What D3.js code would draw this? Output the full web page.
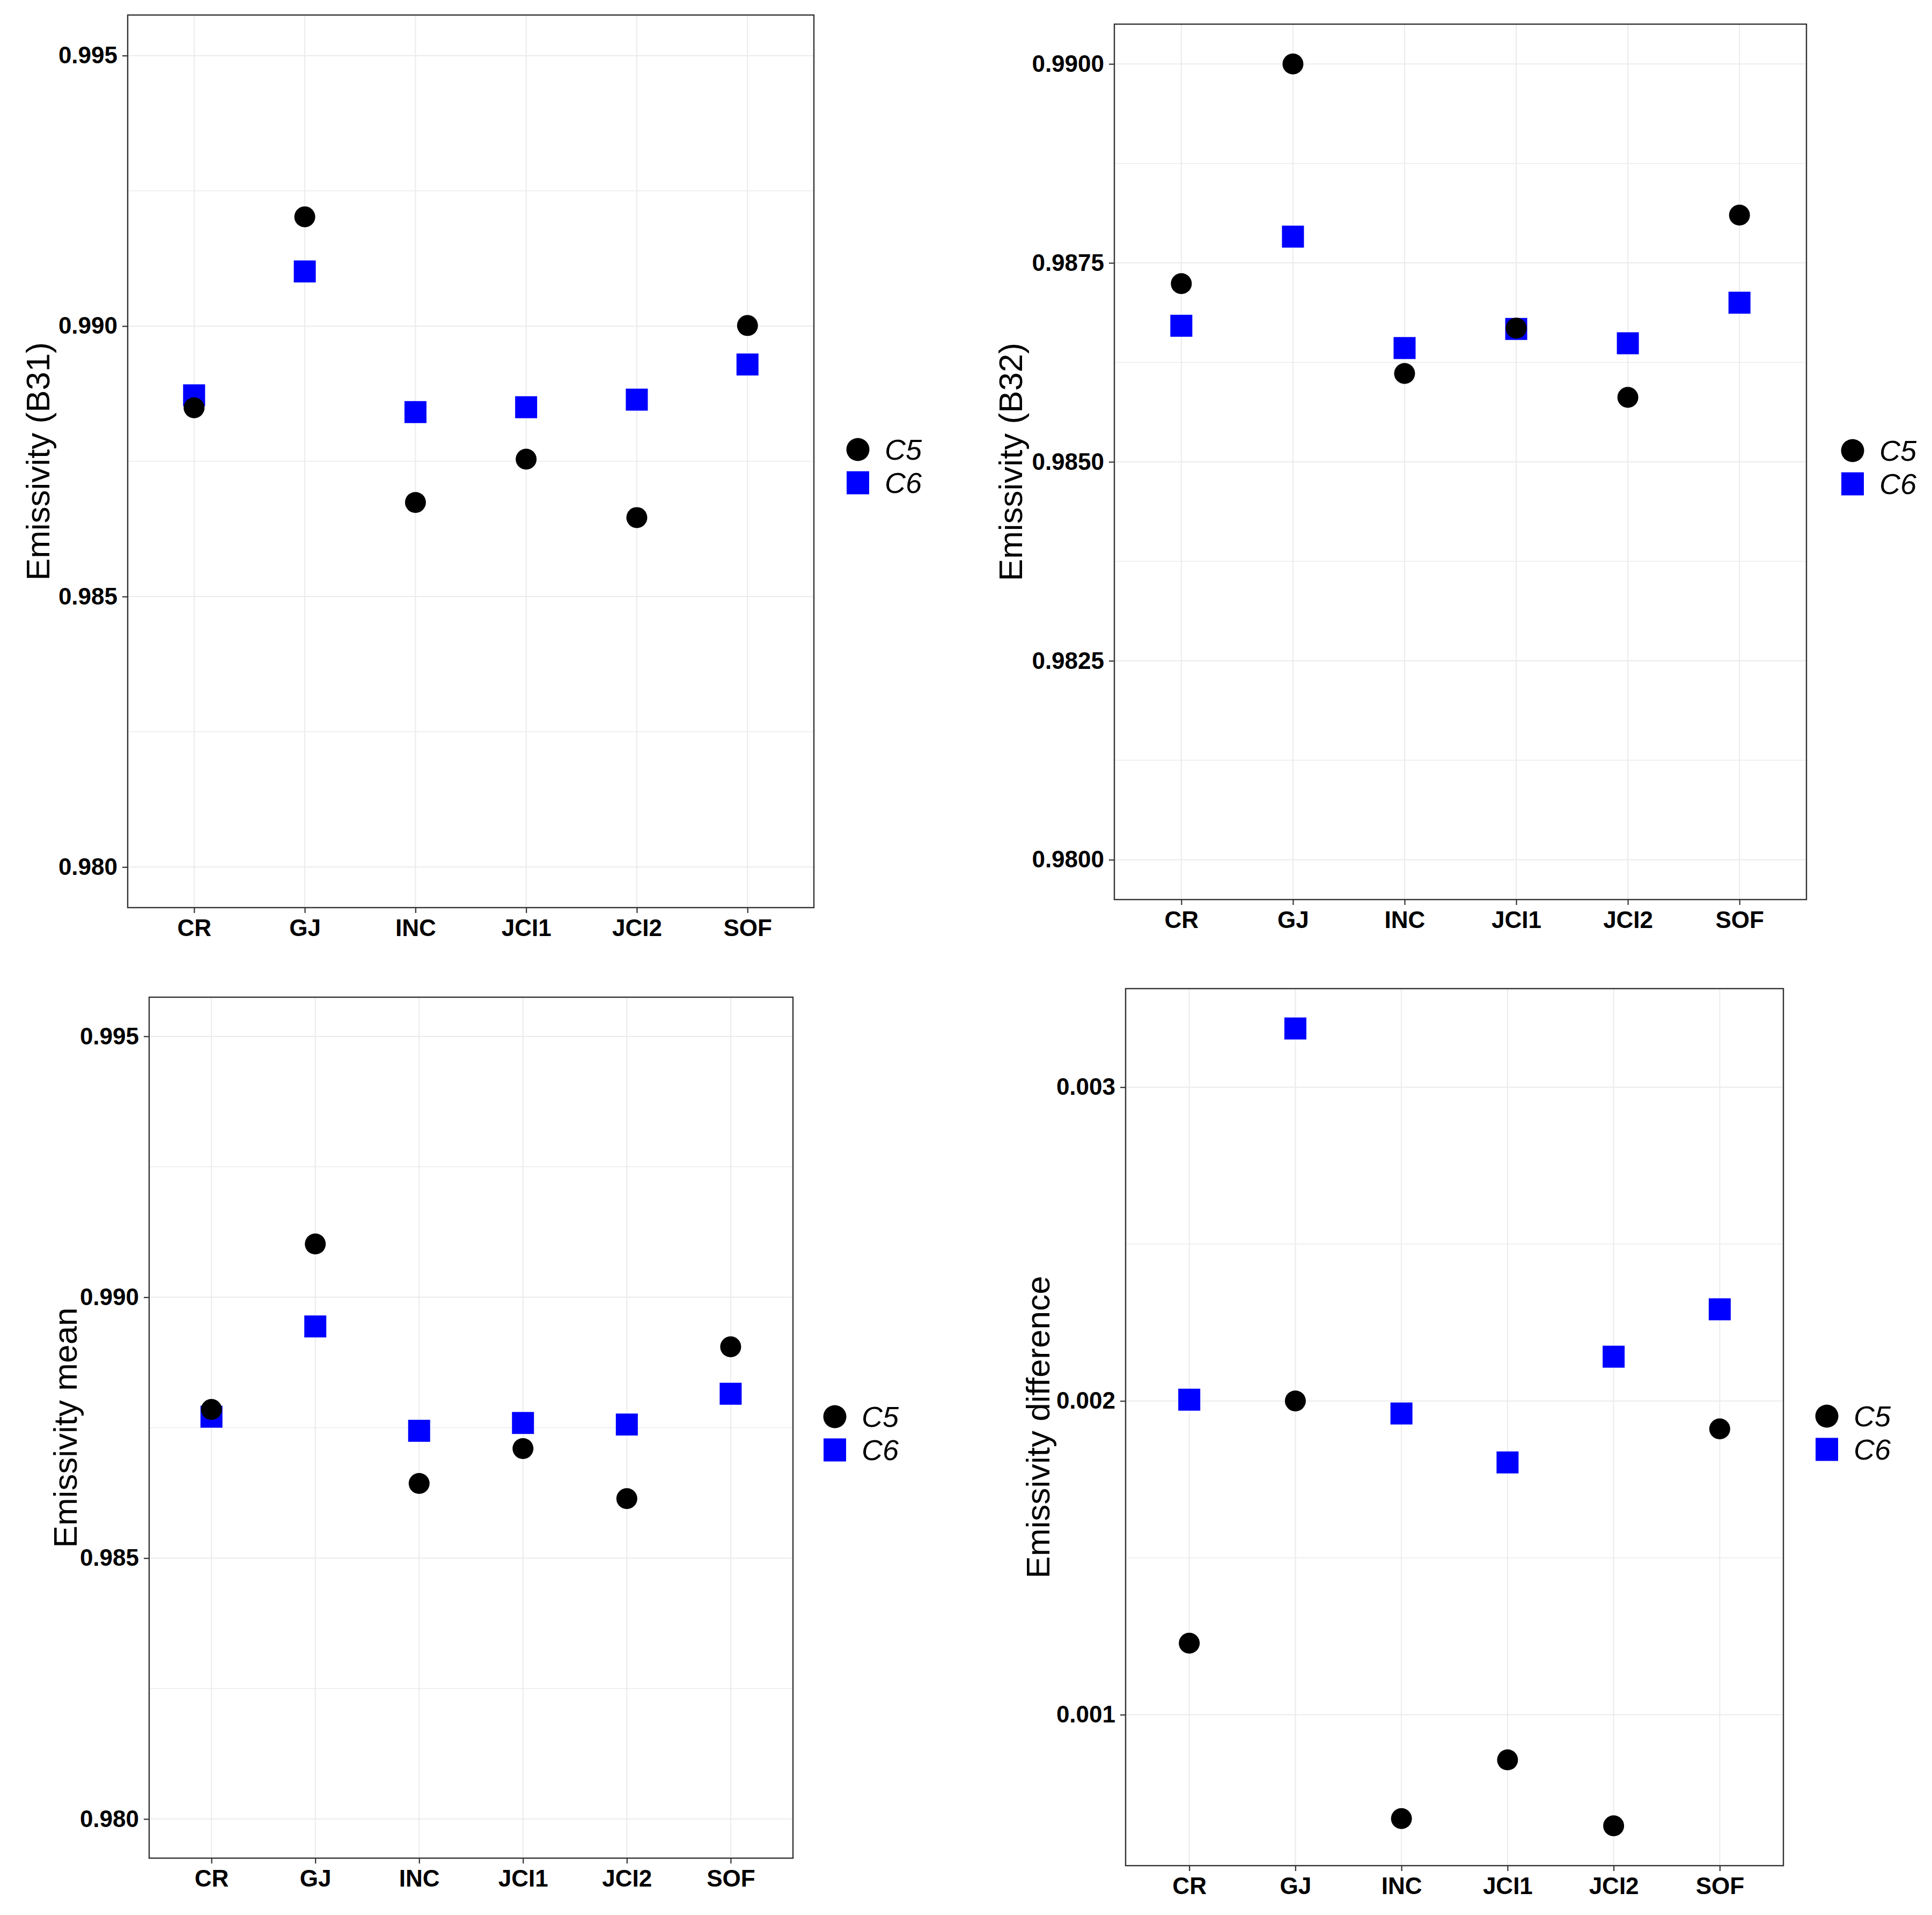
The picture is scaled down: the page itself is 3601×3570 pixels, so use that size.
<!DOCTYPE html>
<html lang="en">
<head>
<meta charset="utf-8">
<script src="https://d3js.org/d3.v7.min.js"></script>
<style>
body { margin: 0; background: #fff; }
svg { display: block; font-family: "Liberation Sans", Arial, sans-serif; }
.grid line { stroke: #ebebeb; stroke-width: 2; }
.frame { fill: none; stroke: #333; stroke-width: 2.4; }
.tick-label { font-weight: bold; fill: #000; }
.axis-title { fill: #000; }
.legend-text { font-style: italic; fill: #000; }
</style>
</head>
<body>
<div id="chart"></div>
<script>
// categories and series
var sites = ["CR", "GJ", "INC", "JCI1", "JCI2", "SOF"];
var seriesNames = ["C5", "C6"];

// values
var b31C5 = [0.98849, 0.99202, 0.98674, 0.98754, 0.98646, 0.99001];
var b31C6 = [0.98872, 0.99101, 0.98841, 0.98850, 0.98864, 0.98929];

var b32C5 = [0.98724, 0.99000, 0.98611, 0.98668, 0.98581, 0.98810];
var b32C6 = [0.98671, 0.98783, 0.98643, 0.98667, 0.98649, 0.98700];

var meanC5 = [0.98785, 0.99102, 0.98643, 0.98710, 0.98614, 0.98905];
var meanC6 = [0.98771, 0.98944, 0.98744, 0.98759, 0.98756, 0.98815];

var diffC5 = [0.001228, 0.002000, 0.000669, 0.000856, 0.000646, 0.001911];
var diffC6 = [0.002004, 0.003187, 0.001960, 0.001804, 0.002141, 0.002292];

// tick values
var b31Ticks = [0.980, 0.985, 0.990, 0.995];
var b32Ticks = [0.9800, 0.9825, 0.9850, 0.9875, 0.9900];
var meanTicks = [0.980, 0.985, 0.990, 0.995];
var diffTicks = [0.001, 0.002, 0.003];

var titles = ["Emissivity (B31)", "Emissivity (B32)", "Emissivity mean", "Emissivity difference"];

var width = 3601, height = 3570;

var svg = d3.select("#chart").append("svg")
    .attr("width", width)
    .attr("height", height);

// expand a limit pair by 5% each side, like ggplot does
function expand(lo, hi) {
    var pad = (hi - lo) * 0.05;
    return [lo - pad, hi + pad];
}

var panels = [
    { c5: b31C5, c6: b31C6, ticks: b31Ticks, fmt: ".3f", limits: [0.980, 0.995], title: titles[0],
      x0: 238, x1: 1517, y0: 28, y1: 1692, titleX: 70, legX: 1599, legY: 838 },
    { c5: b32C5, c6: b32C6, ticks: b32Ticks, fmt: ".4f", limits: [0.980, 0.990], title: titles[1],
      x0: 2077, x1: 3367, y0: 45, y1: 1677, titleX: 1883, legX: 3453, legY: 840 },
    { c5: meanC5, c6: meanC6, ticks: meanTicks, fmt: ".3f", limits: [0.980, 0.995], title: titles[2],
      x0: 278, x1: 1478, y0: 1859, y1: 3464, titleX: 121, legX: 1556, legY: 2641 },
    { c5: diffC5, c6: diffC6, ticks: diffTicks, fmt: ".3f", limits: null, title: titles[3],
      x0: 2098, x1: 3324, y0: 1843, y1: 3478, titleX: 1934, legX: 3405, legY: 2640 }
];

panels.forEach(drawPanel);

function drawPanel(p) {
    var lim = p.limits || d3.extent(p.c5.concat(p.c6));
    var y = d3.scaleLinear()
        .domain(expand(lim[0], lim[1]))
        .range([p.y1, p.y0]);

    var x = d3.scalePoint()
        .domain(sites)
        .range([p.x0, p.x1])
        .padding(0.6);

    var g = svg.append("g");

    // minor + major gridlines
    var major = p.ticks;
    var step = major[1] - major[0];
    var minor = [];
    var dom = y.domain();
    for (var v = major[0] - step / 2; v <= dom[1]; v += step) {
        if (v >= dom[0]) minor.push(v);
    }

    var grid = g.append("g").attr("class", "grid");
    grid.selectAll(".minor").data(minor).enter().append("line")
        .attr("class", "minor")
        .attr("x1", p.x0).attr("x2", p.x1)
        .attr("y1", function (d) { return y(d); })
        .attr("y2", function (d) { return y(d); })
        .style("stroke-width", 1.5);
    grid.selectAll(".major").data(major).enter().append("line")
        .attr("class", "major")
        .attr("x1", p.x0).attr("x2", p.x1)
        .attr("y1", function (d) { return y(d); })
        .attr("y2", function (d) { return y(d); });
    grid.selectAll(".vert").data(sites).enter().append("line")
        .attr("class", "vert")
        .attr("x1", function (d) { return x(d); })
        .attr("x2", function (d) { return x(d); })
        .attr("y1", p.y0).attr("y2", p.y1);

    // axes
    var yAxis = d3.axisLeft(y)
        .tickValues(major)
        .tickFormat(d3.format(p.fmt))
        .tickSize(10)
        .tickPadding(9);
    var ya = g.append("g")
        .attr("transform", "translate(" + p.x0 + ",0)")
        .call(yAxis);
    ya.select(".domain").remove();
    ya.selectAll(".tick line").attr("stroke", "#333").attr("stroke-width", 2.2);
    ya.selectAll(".tick text")
        .attr("class", "tick-label")
        .style("font-size", "44px")
        .attr("fill", "#000");

    var xAxis = d3.axisBottom(x)
        .tickSize(10)
        .tickPadding(12);
    var xa = g.append("g")
        .attr("transform", "translate(0," + p.y1 + ")")
        .call(xAxis);
    xa.select(".domain").remove();
    xa.selectAll(".tick line").attr("stroke", "#333").attr("stroke-width", 2.2);
    xa.selectAll(".tick text")
        .attr("class", "tick-label")
        .style("font-size", "44px")
        .attr("fill", "#000");

    g.append("rect")
        .attr("class", "frame")
        .attr("x", p.x0).attr("y", p.y0)
        .attr("width", p.x1 - p.x0)
        .attr("height", p.y1 - p.y0);

    // points: squares under circles
    g.append("g").selectAll("rect")
        .data(p.c6).enter().append("rect")
        .attr("x", function (d, i) { return x(sites[i]) - 20.5; })
        .attr("y", function (d) { return y(d) - 20.5; })
        .attr("width", 41).attr("height", 41)
        .attr("fill", "#0000ff");

    g.append("g").selectAll("circle")
        .data(p.c5).enter().append("circle")
        .attr("cx", function (d, i) { return x(sites[i]); })
        .attr("cy", function (d) { return y(d); })
        .attr("r", 19.5)
        .attr("fill", "#000");

    // y title
    g.append("text")
        .attr("class", "axis-title")
        .attr("transform", "translate(" + p.titleX + "," + ((p.y0 + p.y1) / 2) + ") rotate(-90)")
        .attr("text-anchor", "middle")
        .attr("dy", "0.36em")
        .style("font-size", "62px")
        .text(p.title);

    // legend
    var leg = g.append("g").attr("transform", "translate(" + p.legX + "," + p.legY + ")");
    leg.append("circle").attr("cx", 0).attr("cy", 0).attr("r", 21.5).attr("fill", "#000");
    leg.append("rect").attr("x", -21).attr("y", 62 - 21.5).attr("width", 42).attr("height", 43).attr("fill", "#0000ff");
    leg.selectAll("text").data(seriesNames).enter().append("text")
        .attr("class", "legend-text")
        .attr("x", 50)
        .attr("y", function (d, i) { return i * 62; })
        .attr("dy", "0.36em")
        .style("font-size", "54px")
        .text(function (d) { return d; });
}
</script>
</body>
</html>
